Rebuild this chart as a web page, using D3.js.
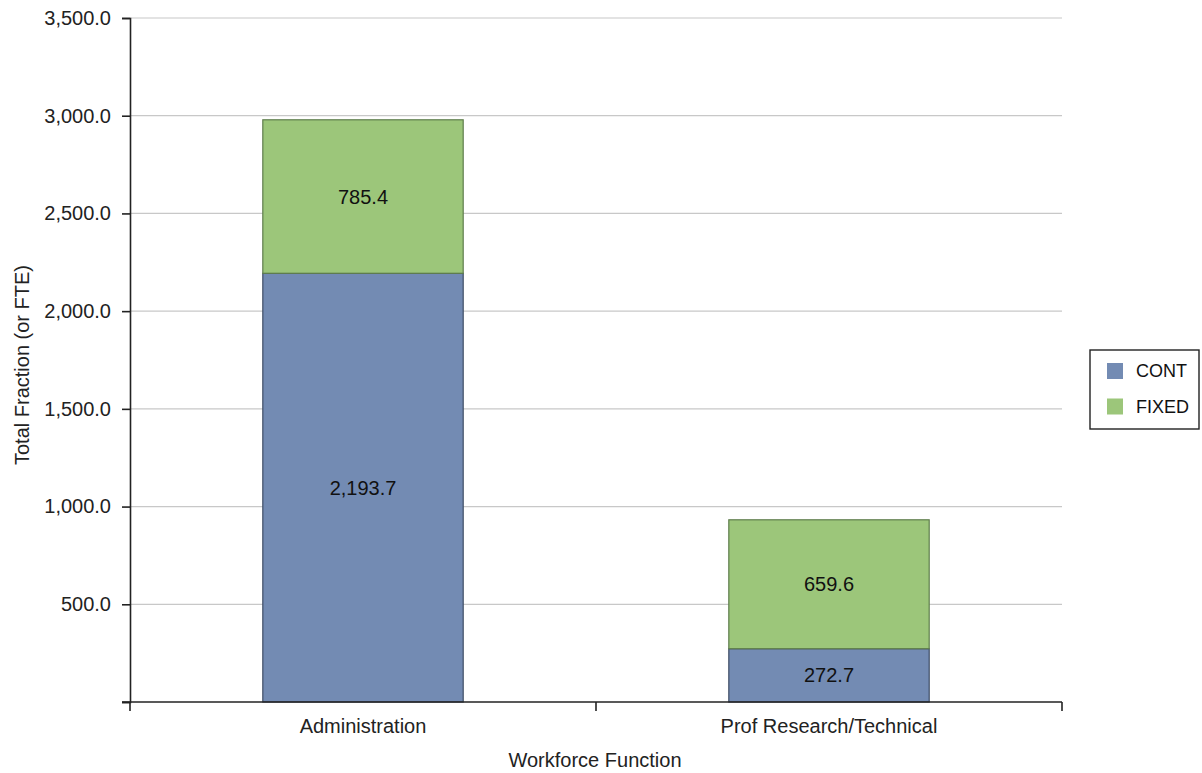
<!DOCTYPE html>
<html>
<head>
<meta charset="utf-8">
<script src="https://cdn.jsdelivr.net/npm/d3@7"></script>
<style>
  html, body { margin: 0; padding: 0; background: #fff; }
  svg { display: block; font-family: "Liberation Sans", Arial, sans-serif; }
</style>
</head>
<body>
<svg id="chart" width="1202" height="773"></svg>
<script>
const categories = ["Administration", "Prof Research/Technical"];
const seriesNames = ["CONT", "FIXED"];
const contValues = [2193.7, 272.7];
const fixedValues = [785.4, 659.6];
const yTicks = [0, 500, 1000, 1500, 2000, 2500, 3000, 3500];
const xTitle = "Workforce Function";
const yTitle = "Total Fraction (or FTE)";
const colors = { CONT: "#738bb3", FIXED: "#9cc67a" };
const strokes = { CONT: "#3f4d66", FIXED: "#5f7d4c" };

const rows = categories.map((c, i) => ({ cat: c, CONT: contValues[i], FIXED: fixedValues[i] }));

const svg = d3.select("#chart");
const mLeft = 130, mRight = 1062, mTop = 18, mBottom = 702;
const fs = 20;

const x = d3.scaleBand().domain(categories).range([mLeft, mRight]).padding(0);
const y = d3.scaleLinear().domain([0, 3500]).range([mBottom, mTop]);
const barW = x.bandwidth() * 0.43;
const fmt = d3.format(",.1f");

// gridlines
svg.append("g").selectAll("line").data(yTicks.filter(t => t > 0)).join("line")
  .attr("x1", mLeft).attr("x2", mRight)
  .attr("y1", d => y(d)).attr("y2", d => y(d))
  .attr("stroke", "#c8c8c8").attr("stroke-width", 1.2);

// bars
const stack = d3.stack().keys(seriesNames)(rows);
const g = svg.append("g");
stack.forEach(s => {
  g.selectAll(null).data(s).join("rect")
    .attr("x", d => x(d.data.cat) + x.bandwidth() / 2 - barW / 2)
    .attr("width", barW)
    .attr("y", d => y(d[1]))
    .attr("height", d => y(d[0]) - y(d[1]))
    .attr("fill", colors[s.key])
    .attr("stroke", strokes[s.key])
    .attr("stroke-width", 1.2);
  g.selectAll(null).data(s).join("text")
    .attr("x", d => x(d.data.cat) + x.bandwidth() / 2)
    .attr("y", d => (y(d[0]) + y(d[1])) / 2)
    .attr("text-anchor", "middle")
    .attr("dominant-baseline", "central")
    .attr("font-size", fs)
    .attr("fill", "#111")
    .text(d => fmt(d[1] - d[0]));
});

// y axis
const yAxis = d3.axisLeft(y).tickValues(yTicks).tickSize(8).tickPadding(11)
  .tickFormat(d => d === 0 ? "" : fmt(d));
const ya = svg.append("g").attr("transform", `translate(${mLeft},0)`).call(yAxis);
ya.select(".domain").attr("stroke", "#222").attr("stroke-width", 1.6);
ya.selectAll(".tick line").attr("stroke", "#222").attr("stroke-width", 1.6);
ya.selectAll(".tick text").attr("font-size", fs).attr("fill", "#222")
  .attr("font-family", "Liberation Sans, Arial, sans-serif");

// x axis
const xa = svg.append("g").attr("transform", `translate(0,${mBottom})`);
xa.append("line").attr("x1", mLeft - 8).attr("x2", mRight).attr("y1", 0).attr("y2", 0)
  .attr("stroke", "#222").attr("stroke-width", 1.6);
const xTickPos = [mLeft, ...categories.slice(1).map(c => x(c)), mRight];
xa.selectAll(".xt").data(xTickPos).join("line")
  .attr("x1", d => d).attr("x2", d => d).attr("y1", 0).attr("y2", 9)
  .attr("stroke", "#222").attr("stroke-width", 1.6);
xa.selectAll(".xl").data(categories).join("text")
  .attr("x", d => x(d) + x.bandwidth() / 2)
  .attr("y", 31)
  .attr("text-anchor", "middle")
  .attr("font-size", fs).attr("fill", "#222")
  .text(d => d);

// axis titles
svg.append("text").attr("x", (mLeft + mRight) / 2 - 1).attr("y", 767)
  .attr("text-anchor", "middle").attr("font-size", fs).attr("fill", "#222")
  .text(xTitle);
svg.append("text").attr("transform", "translate(29,365) rotate(-90)")
  .attr("text-anchor", "middle").attr("font-size", fs).attr("fill", "#222")
  .text(yTitle);

// legend
const lg = svg.append("g");
lg.append("rect").attr("x", 1090).attr("y", 350).attr("width", 109).attr("height", 79)
  .attr("fill", "#fff").attr("stroke", "#222").attr("stroke-width", 1.4);
seriesNames.forEach((n, i) => {
  lg.append("rect").attr("x", 1107).attr("y", 363 + i * 35.5).attr("width", 16).attr("height", 16)
    .attr("fill", colors[n]);
  lg.append("text").attr("x", 1136).attr("y", 371 + i * 35.5)
    .attr("dominant-baseline", "central").attr("font-size", 18).attr("fill", "#111")
    .text(n);
});
</script>
</body>
</html>
